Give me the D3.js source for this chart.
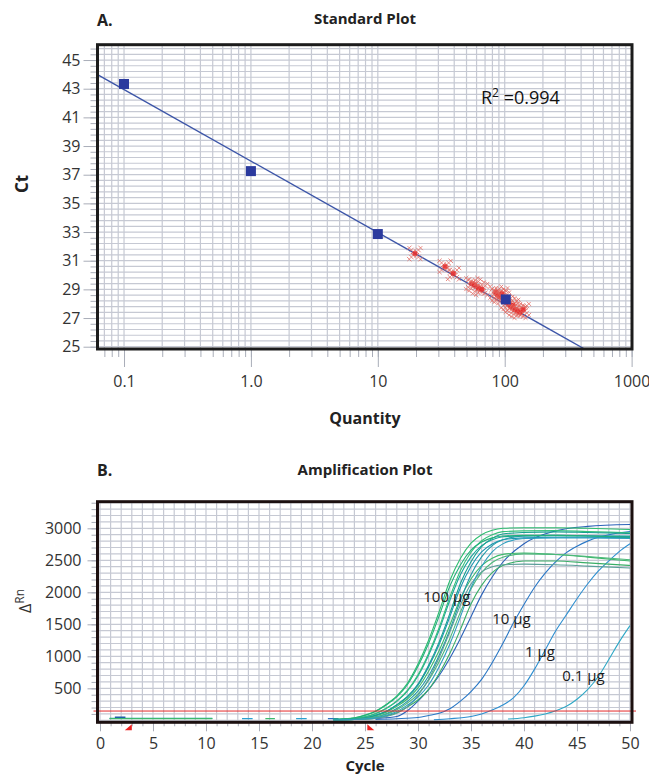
<!DOCTYPE html>
<html><head><meta charset="utf-8">
<script src="https://cdn.jsdelivr.net/npm/d3@7"></script>
<style>
body{margin:0;background:#fff}
svg{display:block}
text{font-family:"Open Sans","Noto Sans",sans-serif}
</style>
</head><body>
<svg id="c" width="649" height="778"></svg>
<script>
// ================= DATA =================
// Chart A: Standard plot
const stdQuantity = [0.1, 1.0, 10, 102];
const stdCt = [43.33, 37.25, 32.86, 28.30];
const unkQuantity = [19.6, 33.9, 39.4, 55, 58, 62, 66, 85, 88, 92, 95, 98, 104, 108, 112, 116, 120, 126, 132, 140];
const unkCt = [31.5, 30.6, 30.1, 29.4, 29.3, 29.1, 29.0, 28.8, 28.6, 28.5, 28.7, 28.4, 28.1, 28.0, 27.8, 27.9, 27.6, 27.5, 27.4, 27.6];
const fitQuantity = [0.0618, 426];
const fitCt = [43.98, 24.84];
const rSquared = "0.994";
const ctTicks = [25, 27, 29, 31, 33, 35, 37, 39, 41, 43, 45];
const qTicks = [0.1, 1, 10, 100, 1000];
const qTickLabels = ["0.1", "1.0", "10", "100", "1000"];

// Chart B: Amplification plot
const cycleTicks = [0, 5, 10, 15, 20, 25, 30, 35, 40, 45, 50];
const rnTicks = [500, 1000, 1500, 2000, 2500, 3000];
const thresholdRn = 145;
const baselineMarkCycles = [3, 25.5];

const cycles100 = [22, 24, 25, 26, 27, 28, 29, 30, 31, 32, 33, 34, 35, 36, 37, 38, 40, 43, 46, 50];
const curves100 = [
  [15, 39, 81, 144, 249, 381, 579, 879, 1251, 1701, 2181, 2529, 2769, 2901, 2970, 3000, 3010, 3010, 3000, 2980],
  [12, 29, 55, 104, 184, 297, 455, 691, 1017, 1411, 1872, 2275, 2555, 2730, 2822, 2868, 2880, 2885, 2880, 2870],
  [12, 30, 57, 107, 189, 305, 468, 710, 1045, 1450, 1924, 2338, 2626, 2806, 2900, 2948, 2960, 2965, 2950, 2930],
  [11, 23, 37, 77, 137, 237, 362, 550, 835, 1188, 1616, 2072, 2403, 2631, 2756, 2822, 2850, 2860, 2860, 2855],
  [10, 21, 34, 71, 126, 218, 333, 506, 768, 1092, 1485, 1904, 2208, 2418, 2533, 2593, 2615, 2590, 2550, 2490],
  [11, 24, 38, 79, 141, 244, 373, 567, 861, 1226, 1667, 2137, 2479, 2714, 2843, 2911, 2935, 2945, 2935, 2920],
  [9, 17, 29, 55, 104, 184, 297, 455, 691, 1017, 1411, 1872, 2275, 2555, 2730, 2822, 2880, 2890, 2885, 2880],
  [8, 15, 26, 50, 94, 166, 268, 411, 624, 918, 1274, 1690, 2054, 2307, 2465, 2548, 2600, 2590, 2560, 2510],
  [5, 13, 20, 33, 68, 120, 208, 318, 483, 733, 1043, 1418, 1818, 2108, 2308, 2418, 2490, 2490, 2460, 2420],
  [5, 12, 18, 30, 60, 110, 210, 390, 640, 980, 1380, 1800, 2130, 2320, 2400, 2430, 2440, 2430, 2410, 2380],
  [14, 37, 78, 138, 239, 366, 556, 844, 1201, 1633, 2094, 2428, 2658, 2785, 2851, 2880, 2890, 2890, 2880, 2860],
  [6, 15, 23, 38, 78, 137, 237, 363, 551, 836, 1189, 1617, 2073, 2403, 2631, 2757, 2840, 2850, 2850, 2840]
];
const colors100 = ["#2ebd6f", "#1aa59c", "#36c07a", "#1b96b0", "#3db86a", "#17a090",
                   "#1f9aa8", "#4cb87a", "#3aae66", "#5a9e98", "#22b07a", "#2f9fc0"];

const cyclesA = [22, 24, 26, 28, 29, 30, 31, 32, 33, 34, 35, 36, 37, 38, 40, 43, 46, 50];
const valuesA = [10, 15, 30, 60, 150, 300, 480, 700, 970, 1280, 1620, 1960, 2240, 2470, 2760, 2960, 3030, 3060];
const cycles10 = [26, 28, 30, 31, 32, 33, 34, 35, 36, 37, 38, 39, 40, 41, 42, 43, 44, 45, 46, 47, 48, 49, 50];
const values10 = [15, 25, 45, 75, 110, 180, 300, 450, 640, 900, 1200, 1520, 1810, 2080, 2300, 2480, 2620, 2720, 2800, 2860, 2900, 2930, 2950];
const cycles1 = [31.5, 33, 35, 36, 37, 38, 39, 40, 41, 42, 43, 44, 45, 46, 47, 48, 49, 50];
const values1 = [10, 25, 60, 100, 160, 240, 350, 540, 800, 1100, 1400, 1650, 1900, 2130, 2330, 2490, 2640, 2760];
const cycles01 = [38.5, 40, 41, 42, 43, 44, 45, 46, 47, 48, 49, 50];
const values01 = [20, 40, 65, 100, 150, 220, 330, 480, 680, 950, 1230, 1480];

// early baseline fragments: start cycle, end cycle, value
const baseStart = [0.9, 0.9, 1.4, 13.4, 15.6, 18.5, 21.5];
const baseEnd = [10.6, 10.6, 2.4, 14.4, 16.5, 19.5, 22.5];
const baseValue = [30, 26, 48, 26, 26, 26, 26];
const baseColor = ["#1aa39a", "#3cb96e", "#1f5fa8", "#2aa0d0", "#3cb96e", "#2aa0d0", "#2a70c0"];

const amountLabels = ["100 µg", "10 µg", "1 µg", "0.1 µg"];
const amountLabelCycle = [30.5, 37.0, 40.1, 43.6];
const amountLabelRn = [1850, 1505, 990, 615];

// ================= DRAW =================
const svg = d3.select("#c");
const gridColor = "#c6c9d3";
const tickColor = "#a9adb8";
const labelColor = "#333";

function styleAxis(g) {
  g.select(".domain").remove();
  g.selectAll(".tick line").attr("stroke", tickColor).attr("stroke-width", 1);
  g.selectAll(".tick text").attr("fill", labelColor).style("font-size", "16px")
    .style("font-family", '"Open Sans","Noto Sans",sans-serif');
}

// ---------- Chart A ----------
const A = {left: 97.5, right: 632, top: 44.7, bottom: 349};
const xA = d3.scaleLog().domain([0.0618, 1007]).range([A.left, A.right]);
const yA = d3.scaleLinear().domain([24.84, 46.07]).range([A.bottom, A.top]);

svg.append("clipPath").attr("id", "clipA").append("rect")
  .attr("x", A.left).attr("y", A.top).attr("width", A.right - A.left).attr("height", A.bottom - A.top);

const ctMinor = d3.range(0, 54).map(i => +(25 + i * 0.4).toFixed(2)).filter(v => v <= 46.07);
const qMinor = [];
for (let d = -2; d <= 3; d++) for (let k = 1; k <= 9; k++) {
  const v = k * Math.pow(10, d);
  if (v >= 0.0618 && v <= 1007) qMinor.push(v);
}

const gridA = svg.append("g").attr("clip-path", "url(#clipA)");
gridA.selectAll("line.h").data(ctMinor).join("line")
  .attr("x1", A.left).attr("x2", A.right).attr("y1", d => yA(d)).attr("y2", d => yA(d))
  .attr("stroke", gridColor).attr("stroke-width", 1.2);
gridA.selectAll("line.v").data(qMinor).join("line")
  .attr("y1", A.top).attr("y2", A.bottom).attr("x1", d => xA(d)).attr("x2", d => xA(d))
  .attr("stroke", gridColor).attr("stroke-width", 1.2);

// axes A
svg.append("g").attr("transform", `translate(${A.left},0)`)
  .call(d3.axisLeft(yA).tickValues(ctMinor).tickSize(7).tickFormat(""))
  .call(styleAxis);
svg.append("g").attr("transform", `translate(${A.left},0)`)
  .call(d3.axisLeft(yA).tickValues(ctTicks).tickSize(14).tickPadding(3).tickFormat(d3.format("d")))
  .call(styleAxis);
svg.append("g").attr("transform", `translate(0,${A.bottom})`)
  .call(d3.axisBottom(xA).tickValues(qMinor).tickSize(8).tickFormat(""))
  .call(styleAxis);
svg.append("g").attr("transform", `translate(0,${A.bottom})`)
  .call(d3.axisBottom(xA).tickValues(qTicks).tickSize(18).tickPadding(9)
    .tickFormat((d, i) => qTickLabels[i]))
  .call(styleAxis);

// fit line
const plotA = svg.append("g").attr("clip-path", "url(#clipA)");
plotA.append("path")
  .datum(fitQuantity.map((q, i) => [q, fitCt[i]]))
  .attr("d", d3.line().x(d => xA(d[0])).y(d => yA(d[1])))
  .attr("fill", "none").attr("stroke", "#3c55a8").attr("stroke-width", 1.4);

// unknown markers (hatched crosses)
function crossPath(r) {
  let p = "";
  [Math.PI / 4, 3 * Math.PI / 4].forEach(a => {
    const dx = Math.cos(a), dy = Math.sin(a);
    const px = -dy, py = dx;
    p += `M${-r * dx},${-r * dy}L${r * dx},${r * dy}`;
    [-8, -5, -2.5, 2.5, 5, 8].forEach(t => {
      p += `M${t * dx - 3.2 * px},${t * dy - 3.2 * py}L${t * dx + 3.2 * px},${t * dy + 3.2 * py}`;
    });
  });
  return p;
}
const cp = crossPath(10.5);
const unk = plotA.selectAll("g.unk").data(unkQuantity.map((q, i) => [q, unkCt[i]])).join("g")
  .attr("transform", d => `translate(${xA(d[0])},${yA(d[1])})`);
unk.append("path").attr("d", cp).attr("fill", "none")
  .attr("stroke", "#e0645c").attr("stroke-width", 1).attr("opacity", 0.75);
unk.append("circle").attr("r", 2.5).attr("fill", "#e62a2a").attr("opacity", 0.85);

// standards
plotA.selectAll("rect.std").data(stdQuantity.map((q, i) => [q, stdCt[i]])).join("rect")
  .attr("x", d => xA(d[0]) - 5).attr("y", d => yA(d[1]) - 5)
  .attr("width", 10).attr("height", 10).attr("fill", "#2b3a9e");

// frame A
svg.append("rect").attr("x", A.left).attr("y", A.top).attr("width", A.right - A.left)
  .attr("height", A.bottom - A.top).attr("fill", "none").attr("stroke", "#1c1c1c").attr("stroke-width", 3);

// R^2
const r2 = svg.append("text").attr("x", 481).attr("y", 104).attr("fill", "#111").style("font-size", "18px");
r2.append("tspan").text("R");
r2.append("tspan").attr("dy", -7).style("font-size", "12px").text("2");
r2.append("tspan").attr("dy", 7).text(" =" + rSquared);

// titles A
svg.append("text").attr("x", 97).attr("y", 26).style("font-size", "16px").style("font-weight", "bold")
  .attr("fill", "#222").text("A.");
svg.append("text").attr("x", 365).attr("y", 24).attr("text-anchor", "middle").style("font-size", "15px")
  .style("font-weight", "bold").attr("fill", "#222").text("Standard Plot");
svg.append("text").attr("transform", "translate(28,184) rotate(-90)").attr("text-anchor", "middle")
  .style("font-size", "17px").style("font-weight", "bold").attr("fill", "#222").text("Ct");
svg.append("text").attr("x", 365).attr("y", 424).attr("text-anchor", "middle").style("font-size", "16px")
  .style("font-weight", "bold").attr("fill", "#222").text("Quantity");

// ---------- Chart B ----------
const B = {left: 97.5, right: 632, top: 501.7, bottom: 722.3};
const xB = d3.scaleLinear().domain([-0.236, 50.19]).range([B.left, B.right]);
const yB = d3.scaleLinear().domain([-31, 3416]).range([B.bottom, B.top]);

svg.append("clipPath").attr("id", "clipB").append("rect")
  .attr("x", B.left).attr("y", B.top).attr("width", B.right - B.left).attr("height", B.bottom - B.top);

const cycMinor = d3.range(0, 51);
const rnMinor = d3.range(0, 3500, 100);
const gridB = svg.append("g").attr("clip-path", "url(#clipB)");
gridB.selectAll("line.h").data(rnMinor).join("line")
  .attr("x1", B.left).attr("x2", B.right).attr("y1", d => yB(d)).attr("y2", d => yB(d))
  .attr("stroke", gridColor).attr("stroke-width", 1.2);
gridB.selectAll("line.v").data(cycMinor).join("line")
  .attr("y1", B.top).attr("y2", B.bottom).attr("x1", d => xB(d)).attr("x2", d => xB(d))
  .attr("stroke", gridColor).attr("stroke-width", 1.2);

svg.append("g").attr("transform", `translate(${B.left},0)`)
  .call(d3.axisLeft(yB).tickValues(rnMinor.filter(v => v > 0)).tickSize(6).tickFormat(""))
  .call(styleAxis);
svg.append("g").attr("transform", `translate(${B.left},0)`)
  .call(d3.axisLeft(yB).tickValues(rnTicks).tickSize(10).tickPadding(6).tickFormat(d3.format("d")))
  .call(styleAxis);
svg.append("g").attr("transform", `translate(0,${B.bottom})`)
  .call(d3.axisBottom(xB).tickValues(cycMinor).tickSize(4).tickFormat(""))
  .call(styleAxis);
svg.append("g").attr("transform", `translate(0,${B.bottom})`)
  .call(d3.axisBottom(xB).tickValues(cycleTicks).tickSize(9).tickPadding(6).tickFormat(d3.format("d")))
  .call(styleAxis);

const plotB = svg.append("g").attr("clip-path", "url(#clipB)");
const lineB = d3.line().x(d => xB(d[0])).y(d => yB(d[1])).curve(d3.curveMonotoneX);

// baseline fragments
plotB.selectAll("line.base").data(baseStart.map((s, i) => i)).join("line")
  .attr("x1", i => xB(baseStart[i])).attr("x2", i => xB(baseEnd[i]))
  .attr("y1", i => yB(baseValue[i])).attr("y2", i => yB(baseValue[i]))
  .attr("stroke", i => baseColor[i]).attr("stroke-width", 1.3);

// other curves
const otherCurves = [
  {c: cycles01, v: values01, col: "#2fa8c6"},
  {c: cycles1, v: values1, col: "#2e8fd0"},
  {c: cycles10, v: values10, col: "#2a78c6"},
  {c: cyclesA, v: valuesA, col: "#2b62b8"}
];
otherCurves.forEach(o => {
  plotB.append("path").datum(o.c.map((c, i) => [c, o.v[i]]))
    .attr("d", lineB).attr("fill", "none").attr("stroke", o.col).attr("stroke-width", 1.1);
});
curves100.forEach((vals, k) => {
  plotB.append("path").datum(cycles100.map((c, i) => [c, vals[i]]))
    .attr("d", lineB).attr("fill", "none").attr("stroke", colors100[k]).attr("stroke-width", 1.1);
});

// threshold
svg.append("line").attr("x1", B.left - 4).attr("x2", B.right + 4)
  .attr("y1", yB(thresholdRn)).attr("y2", yB(thresholdRn))
  .attr("stroke", "#e52a2a").attr("stroke-width", 1);

// frame B
svg.append("rect").attr("x", B.left).attr("y", B.top).attr("width", B.right - B.left)
  .attr("height", B.bottom - B.top).attr("fill", "none").attr("stroke", "#1c1010").attr("stroke-width", 3);

// baseline start/end markers
baselineMarkCycles.forEach((c, i) => {
  const x = xB(c), y = B.bottom + 2;
  const d = i === 0
    ? `M${x - 7},${y + 6}L${x},${y + 6}L${x},${y}Z`
    : `M${x - 3},${y}L${x - 3},${y + 6}L${x + 4},${y + 6}Z`;
  svg.append("path").attr("d", d).attr("fill", "#ee2020");
});

// amount labels
amountLabels.forEach((t, i) => {
  svg.append("text").attr("x", xB(amountLabelCycle[i])).attr("y", yB(amountLabelRn[i]))
    .style("font-size", "15px").attr("fill", "#1a1a1a").text(t);
});

// titles B
svg.append("text").attr("x", 97).attr("y", 476).style("font-size", "16px").style("font-weight", "bold")
  .attr("fill", "#222").text("B.");
svg.append("text").attr("x", 365).attr("y", 475).attr("text-anchor", "middle").style("font-size", "15px")
  .style("font-weight", "bold").attr("fill", "#222").text("Amplification Plot");
svg.append("text").attr("x", 365).attr("y", 771).attr("text-anchor", "middle").style("font-size", "15px")
  .style("font-weight", "bold").attr("fill", "#222").text("Cycle");
const yl = svg.append("text").attr("transform", "translate(31,613) rotate(-90)")
  .style("font-size", "16px").attr("fill", "#333");
yl.append("tspan").text("Δ");
yl.append("tspan").attr("dy", -7).style("font-size", "12px").text("Rn");
</script>
</body></html>
